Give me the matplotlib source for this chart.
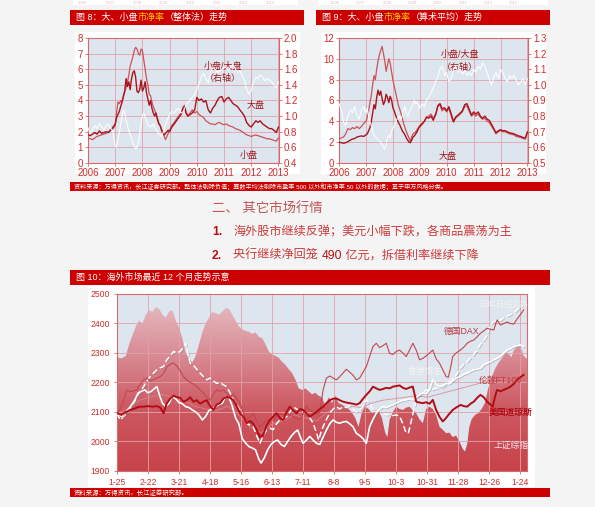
import matplotlib
matplotlib.use('Agg')
import matplotlib.pyplot as plt
import numpy as np
from matplotlib.colors import LinearSegmentedColormap
from matplotlib.patches import Rectangle, Polygon
from matplotlib.ticker import FormatStrFormatter
import matplotlib.patheffects as pe

plt.rcParams['font.family'] = ['Liberation Sans', 'Noto Sans CJK SC', 'DejaVu Sans']

# ---------------- DATA ----------------
# Fig 8: PB (whole method)
pb8_t = [2006.00, 2006.08, 2006.17, 2006.25, 2006.33, 2006.42, 2006.50, 2006.58, 2006.67, 2006.75, 2006.83, 2006.92,
         2007.00, 2007.05, 2007.10, 2007.15, 2007.20, 2007.25, 2007.30, 2007.35, 2007.40, 2007.45, 2007.50, 2007.55,
         2007.60, 2007.65, 2007.70, 2007.75, 2007.80, 2007.85, 2007.90, 2007.95, 2008.00, 2008.05, 2008.10, 2008.15,
         2008.20, 2008.25, 2008.30, 2008.35, 2008.40, 2008.45, 2008.50, 2008.55, 2008.60, 2008.65, 2008.70, 2008.75,
         2008.80, 2008.85, 2008.90, 2008.95, 2009.00, 2009.08, 2009.17, 2009.25, 2009.33, 2009.42, 2009.50, 2009.55,
         2009.60, 2009.67, 2009.75, 2009.83, 2009.92, 2010.00, 2010.08, 2010.17, 2010.25, 2010.33, 2010.42, 2010.50,
         2010.58, 2010.67, 2010.75, 2010.83, 2010.92, 2011.00, 2011.08, 2011.17, 2011.25, 2011.33, 2011.42, 2011.50,
         2011.58, 2011.67, 2011.75, 2011.83, 2011.92, 2012.00, 2012.08, 2012.17, 2012.25, 2012.33, 2012.42, 2012.50,
         2012.58, 2012.67, 2012.75, 2012.83, 2012.92, 2013.00]
pb8_big = [1.80, 1.75, 1.85, 1.95, 1.85, 2.05, 1.90, 1.95, 2.00, 1.95, 2.10, 2.30,
           2.50, 2.90, 3.10, 3.30, 3.60, 3.90, 4.30, 4.60, 5.40, 4.90, 5.20, 4.70,
           5.40, 5.80, 5.90, 5.50, 4.60, 4.50, 4.70, 5.30, 4.60, 4.80, 5.20, 4.50,
           4.10, 3.70, 4.00, 3.50, 3.20, 3.00, 3.20, 2.80, 2.50, 2.40, 2.10, 1.90,
           1.80, 1.90, 2.00, 2.10, 2.00, 2.30, 2.50, 2.70, 2.90, 3.10, 3.50, 3.60,
           3.20, 3.00, 3.10, 3.20, 3.40, 4.20, 4.00, 4.10, 3.90, 4.00, 3.40, 3.20,
           3.50, 3.70, 4.00, 4.20, 4.25, 3.90, 4.10, 4.20, 4.00, 3.80, 3.70, 3.60,
           3.40, 3.20, 3.00, 2.60, 2.40, 2.30, 2.50, 2.70, 2.60, 2.70, 2.50, 2.40,
           2.30, 2.20, 2.20, 2.10, 1.95, 2.30]
pb8_small = [1.60, 1.55, 1.50, 1.60, 1.70, 1.75, 1.80, 1.85, 1.90, 2.00, 2.10, 2.20,
             2.40, 3.20, 3.90, 3.80, 4.00, 3.90, 4.20, 4.60, 4.80, 5.20, 5.60, 6.20,
             6.50, 6.80, 7.20, 7.40, 7.30, 7.00, 6.90, 7.30, 7.20, 6.60, 6.00, 5.40,
             5.00, 4.40, 4.30, 3.90, 3.60, 3.40, 3.10, 2.90, 2.60, 2.40, 2.20, 2.00,
             1.70, 1.50, 1.70, 1.90, 2.10, 2.40, 2.60, 2.80, 3.00, 3.20, 3.60, 3.70,
             3.30, 3.00, 3.20, 3.40, 3.20, 3.30, 3.10, 3.00, 2.90, 2.70, 2.60, 2.50,
             2.50, 2.45, 2.55, 2.60, 2.50, 2.45, 2.50, 2.40, 2.35, 2.30, 2.20, 2.15,
             2.10, 2.00, 1.90, 1.80, 1.75, 1.70, 1.75, 1.80, 1.75, 1.70, 1.65, 1.60,
             1.55, 1.55, 1.50, 1.45, 1.40, 1.60]
pb8_ratio = [0.85, 0.78, 0.82, 0.88, 0.84, 0.90, 0.86, 0.82, 0.88, 0.90, 0.85, 0.80,
             0.62, 0.60, 0.70, 0.78, 0.90, 1.00, 1.08, 1.05, 0.95, 0.88, 0.82, 0.76,
             0.72, 0.66, 0.62, 0.58, 0.60, 0.66, 0.78, 0.90, 1.00, 1.04, 0.98, 0.94,
             0.90, 0.88, 0.86, 0.88, 0.90, 0.86, 0.82, 0.80, 0.78, 0.76, 0.74, 0.78,
             0.84, 0.90, 0.94, 0.98, 1.02, 1.06, 1.04, 1.08, 1.10, 1.04, 1.06, 1.10,
             1.14, 1.18, 1.20, 1.24, 1.28, 1.34, 1.42, 1.50, 1.55, 1.48, 1.42, 1.55,
             1.62, 1.60, 1.56, 1.58, 1.60, 1.63, 1.62, 1.58, 1.64, 1.66, 1.60, 1.56,
             1.58, 1.52, 1.46, 1.34, 1.28, 1.32, 1.44, 1.50, 1.48, 1.53, 1.50, 1.45,
             1.48, 1.46, 1.44, 1.40, 1.36, 1.44]

# Fig 9: PB (arithmetic mean)
pb9_t = pb8_t
pb9_big = [2.00, 1.95, 1.90, 1.95, 2.05, 2.20, 2.30, 2.35, 2.50, 2.55, 2.60, 2.55,
           2.70, 2.80, 3.10, 3.40, 4.00, 4.80, 5.60, 5.20, 6.30, 7.00, 6.50, 6.90,
           6.20, 5.60, 5.90, 6.60, 6.30, 5.80, 6.40, 6.10, 5.30, 5.00, 4.60, 4.30,
           3.90, 3.70, 3.40, 3.10, 2.90, 2.70, 2.40, 2.20, 2.00, 1.95, 2.20, 2.50,
           2.60, 2.80, 3.00, 3.30, 3.50, 3.70, 4.00, 4.40, 4.30, 4.50, 4.10, 4.40,
           4.70, 5.50, 5.70, 5.20, 5.30, 5.00, 5.40, 4.70, 4.00, 4.40, 4.60, 4.80,
           5.00, 5.60, 5.70, 5.20, 4.60, 4.90, 4.70, 4.90, 4.50, 4.30, 4.50, 4.20,
           4.10, 3.70, 3.30, 2.90, 3.10, 3.20, 3.10, 3.10, 3.00, 2.90, 2.85, 2.80,
           2.70, 2.60, 2.55, 2.45, 2.40, 3.00]
pb9_small = [2.30, 2.40, 2.50, 2.80, 3.30, 3.20, 3.40, 3.30, 3.50, 3.30, 3.50, 3.80,
             4.00, 4.40, 5.00, 5.80, 6.50, 7.50, 8.40, 8.00, 9.00, 9.80, 10.40, 10.80,
             11.20, 10.50, 9.80, 8.80, 9.40, 10.00, 9.60, 8.80, 8.00, 7.40, 6.80, 6.20,
             5.60, 5.20, 4.80, 4.30, 3.80, 3.40, 3.00, 2.70, 2.40, 2.10, 2.50, 2.80,
             2.90, 3.00, 3.20, 3.40, 3.60, 3.80, 4.00, 4.40, 4.50, 4.70, 4.30, 4.50,
             4.80, 5.40, 5.60, 5.00, 5.20, 4.90, 5.30, 4.50, 3.90, 4.30, 4.50, 4.70,
             4.90, 5.40, 5.50, 5.00, 4.50, 4.70, 4.50, 4.70, 4.40, 4.20, 4.30, 4.00,
             3.90, 3.50, 3.20, 2.80, 3.00, 3.10, 3.00, 3.00, 2.90, 2.80, 2.75, 2.70,
             2.55, 2.50, 2.45, 2.35, 2.30, 2.90]
pb9_ratio = [0.88, 0.84, 0.76, 0.74, 0.80, 0.84, 0.82, 0.86, 0.80, 0.78, 0.84, 0.86,
             0.82, 0.85, 0.80, 0.76, 0.74, 0.70, 0.68, 0.67, 0.66, 0.65, 0.64, 0.63,
             0.62, 0.60, 0.59, 0.62, 0.66, 0.68, 0.66, 0.70, 0.72, 0.74, 0.76, 0.78,
             0.79, 0.80, 0.78, 0.80, 0.84, 0.86, 0.82, 0.80, 0.82, 0.84, 0.86, 0.88,
             0.90, 0.88, 0.89, 0.87, 0.85, 0.88, 0.86, 0.90, 0.92, 0.95, 0.98, 1.00,
             1.03, 1.05, 1.10, 1.12, 1.06, 1.08, 1.02, 1.04, 1.10, 1.12, 1.08, 1.10,
             1.07, 1.09, 1.06, 1.08, 1.06, 1.10, 1.08, 1.12, 1.10, 1.14, 1.12, 1.08,
             1.04, 1.00, 1.05, 1.08, 1.04, 1.10, 1.08, 1.04, 1.02, 1.06, 1.04, 1.06,
             1.03, 1.00, 1.02, 1.04, 1.00, 1.04]

# Fig 10: overseas markets (days since 1-25)
mk_ticks = [0, 28, 56, 84, 112, 140, 168, 196, 224, 252, 280, 308, 336, 364]
mk_ticklabels = ['1-25', '2-22', '3-21', '4-18', '5-16', '6-13', '7-11', '8-8', '9-5',
                 '10-3', '10-31', '11-28', '12-26', '1-24']

sh_t = [0, 4, 8, 11, 14, 17, 20, 23, 26, 29, 32, 35, 38, 41, 44, 47, 50, 53, 56, 59, 62, 65, 68, 71,
        74, 77, 80, 83, 86, 89, 92, 95, 98, 101, 104, 107, 110, 113, 116, 119, 122, 125, 128, 131,
        134, 137, 140, 143, 146, 149, 152, 155, 158, 161, 164, 167, 170, 173, 176, 179, 182, 185,
        188, 191, 194, 197, 200, 203, 206, 209, 212, 215, 218, 221, 224, 227, 230, 233, 236, 239,
        242, 244, 246, 249, 252, 255, 258, 261, 264, 267, 270, 273, 276, 279, 282, 285, 288, 291,
        294, 297, 300, 303, 306, 309, 312, 314, 316, 318, 320, 323, 326, 329, 332, 335, 338, 341,
        344, 347, 350, 353, 356, 358, 361, 364, 367, 370]
sh = [2285, 2282, 2290, 2330, 2360, 2390, 2410, 2400, 2430, 2445, 2440, 2455, 2450, 2430, 2420, 2440,
      2445, 2410, 2385, 2350, 2300, 2280, 2268, 2290, 2330, 2370, 2400, 2420, 2440, 2435, 2430, 2440,
      2452, 2450, 2430, 2410, 2390, 2380, 2375, 2372, 2365, 2370, 2355, 2350, 2330, 2305, 2295, 2290,
      2284, 2270, 2260, 2245, 2232, 2210, 2180, 2175, 2180, 2170, 2160, 2165, 2155, 2150, 2120, 2150,
      2130, 2155, 2130, 2125, 2117, 2110, 2098, 2080, 2050, 2100, 2118, 2110, 2096, 2100, 2105, 2080,
      2030, 2015, 2073, 2100, 2118, 2110, 2107, 2115, 2118, 2105, 2096, 2075, 2062, 2110, 2118, 2110,
      2090, 2050, 2040, 2028, 2030, 2015, 2020, 2000, 1975, 1966, 1990, 2050, 2075, 2090, 2096, 2110,
      2130, 2180, 2215, 2245, 2265, 2280, 2295, 2300, 2285, 2310, 2320, 2322, 2290, 2280]

dj_t = [0, 4, 8, 12, 16, 20, 24, 28, 32, 36, 39, 42, 45, 48, 51, 54, 57, 60, 63, 66, 69, 72, 75, 78,
        81, 84, 87, 90, 93, 96, 99, 102, 105, 108, 111, 114, 117, 120, 123, 126, 129, 132, 135, 138,
        141, 144, 147, 150, 153, 156, 159, 162, 165, 168, 171, 174, 177, 180, 183, 186, 189, 192, 195,
        198, 201, 204, 207, 210, 213, 216, 219, 222, 225, 228, 231, 234, 237, 240, 243, 246, 249, 252,
        255, 258, 261, 264, 267, 270, 273, 276, 279, 282, 285, 288, 291, 294, 297, 299, 303, 306, 310,
        313, 316, 319, 322, 325, 328, 331, 334, 337, 339, 341, 343, 346, 349, 352, 355, 358, 361, 364, 367]
dj = [2096, 2090, 2100, 2107, 2112, 2118, 2118, 2120, 2118, 2120, 2115, 2096, 2130, 2145, 2155, 2150,
      2148, 2135, 2140, 2150, 2135, 2140, 2128, 2135, 2140, 2120, 2107, 2125, 2130, 2145, 2152, 2148,
      2140, 2120, 2096, 2085, 2062, 2070, 2060, 2040, 2015, 2022, 2055, 2073, 2085, 2096, 2080, 2073,
      2100, 2118, 2105, 2096, 2110, 2107, 2095, 2084, 2092, 2100, 2110, 2118, 2130, 2140, 2145, 2146,
      2140, 2135, 2132, 2130, 2128, 2125, 2130, 2145, 2158, 2170, 2186, 2180, 2175, 2178, 2182, 2180,
      2186, 2188, 2190, 2182, 2178, 2183, 2186, 2135, 2132, 2130, 2133, 2128, 2141, 2107, 2084, 2068,
      2080, 2090, 2107, 2115, 2124, 2120, 2118, 2128, 2135, 2148, 2158, 2150, 2135, 2125, 2118, 2150,
      2175, 2170, 2175, 2180, 2186, 2195, 2209, 2218, 2226]

dax_t = [0, 3, 6, 9, 12, 15, 18, 21, 24, 27, 30, 33, 36, 39, 42, 45, 48, 51, 54, 57, 60, 63, 66, 69,
         72, 75, 78, 81, 84, 87, 90, 93, 96, 99, 102, 105, 108, 111, 114, 117, 120, 123, 126, 129, 132,
         135, 138, 141, 144, 147, 150, 153, 156, 159, 162, 165, 168, 171, 174, 177, 180, 183, 186, 189,
         192, 195, 198, 201, 204, 207, 210, 213, 216, 219, 222, 225, 228, 231, 234, 237, 240, 243, 246,
         249, 252, 255, 258, 261, 264, 267, 270, 273, 276, 279, 282, 285, 288, 291, 294, 297, 299, 301,
         303, 306, 310, 313, 316, 319, 322, 325, 328, 331, 334, 337, 340, 343, 346, 349, 352, 355, 358,
         361, 364, 367]
dax = [2096, 2110, 2140, 2175, 2168, 2172, 2175, 2195, 2209, 2215, 2205, 2210, 2215, 2220, 2230, 2254,
       2262, 2266, 2256, 2240, 2220, 2209, 2200, 2195, 2186, 2175, 2164, 2150, 2140, 2160, 2175, 2170,
       2175, 2165, 2152, 2160, 2145, 2130, 2100, 2073, 2085, 2096, 2070, 2050, 2060, 2073, 2075, 2072,
       2085, 2096, 2090, 2098, 2090, 2085, 2078, 2073, 2095, 2118, 2105, 2100, 2095, 2100, 2175, 2215,
       2222, 2215, 2209, 2220, 2232, 2245, 2235, 2225, 2209, 2215, 2235, 2254, 2288, 2322, 2333, 2318,
       2325, 2333, 2299, 2295, 2305, 2310, 2300, 2288, 2310, 2333, 2310, 2277, 2282, 2290, 2300, 2310,
       2280, 2266, 2243, 2220, 2218, 2250, 2288, 2300, 2310, 2320, 2333, 2340, 2344, 2355, 2367, 2375,
       2384, 2380, 2378, 2412, 2395, 2400, 2405, 2400, 2398, 2415, 2430, 2446]

hsi_t = [0, 4, 8, 12, 16, 19, 22, 25, 28, 31, 34, 36, 39, 41, 44, 47, 50, 53, 56, 59, 62, 65, 68, 71,
         74, 77, 80, 83, 86, 89, 92, 95, 98, 101, 104, 107, 110, 113, 116, 119, 122, 125, 128, 130, 133,
         136, 139, 142, 145, 148, 151, 154, 157, 160, 163, 166, 168, 171, 174, 177, 180, 183, 186, 189,
         192, 195, 198, 201, 204, 207, 210, 213, 216, 219, 222, 225, 228, 231, 234, 237, 240, 243, 246,
         249, 252, 255, 258, 261, 264, 267, 270, 273, 276, 279, 282, 285, 288, 291, 294, 297, 300, 303,
         306, 310, 313, 316, 319, 322, 325, 328, 331, 334, 337, 340, 343, 346, 349, 352, 355, 358, 361,
         364, 367]
hsi = [2096, 2085, 2100, 2118, 2140, 2164, 2170, 2175, 2165, 2170, 2180, 2186, 2150, 2130, 2118, 2130,
       2152, 2145, 2132, 2128, 2118, 2115, 2107, 2100, 2090, 2073, 2085, 2105, 2110, 2118, 2125, 2130,
       2152, 2150, 2120, 2080, 2060, 2010, 1995, 1983, 1978, 1972, 1940, 1927, 1945, 1972, 1990, 2000,
       2005, 1990, 1983, 2000, 2017, 2030, 2039, 2010, 1994, 2005, 2017, 2005, 1994, 1990, 2015, 2039,
       2060, 2073, 2065, 2062, 2066, 2068, 2060, 2050, 2028, 2020, 2010, 1994, 2050, 2075, 2096, 2110,
       2118, 2115, 2120, 2125, 2130, 2135, 2140, 2141, 2145, 2141, 2150, 2158, 2165, 2162, 2175, 2209,
       2195, 2186, 2190, 2197, 2195, 2205, 2215, 2220, 2228, 2232, 2238, 2243, 2245, 2248, 2260, 2266,
       2270, 2277, 2282, 2288, 2300, 2310, 2315, 2322, 2325, 2327, 2322]

nk_t = [0, 3, 6, 9, 13, 16, 18, 21, 24, 27, 30, 33, 36, 39, 42, 45, 48, 51, 54, 57, 60, 62, 64, 66,
        69, 72, 75, 78, 81, 84, 87, 90, 93, 96, 99, 102, 105, 108, 111, 114, 117, 120, 123, 126, 129,
        132, 135, 138, 141, 144, 147, 150, 153, 156, 159, 162, 165, 168, 171, 174, 177, 180, 182, 184,
        186, 189, 192, 195, 198, 201, 204, 207, 210, 213, 216, 219, 222, 225, 228, 231, 234, 237, 240,
        243, 246, 249, 252, 255, 258, 261, 263, 265, 268, 271, 274, 277, 280, 283, 286, 289, 292, 295,
        298, 301, 304, 307, 310, 313, 316, 319, 322, 325, 328, 331, 334, 337, 340, 343, 346, 349, 352,
        355, 358, 361, 364, 367]
nk = [2096, 2073, 2085, 2096, 2118, 2135, 2152, 2170, 2186, 2205, 2220, 2232, 2243, 2250, 2254, 2277,
      2290, 2305, 2300, 2305, 2320, 2333, 2300, 2266, 2258, 2245, 2232, 2220, 2209, 2215, 2205, 2197,
      2200, 2192, 2186, 2165, 2141, 2125, 2107, 2085, 2062, 2055, 2050, 2020, 1994, 2020, 2039, 2045,
      2040, 2060, 2073, 2080, 2084, 2100, 2118, 2110, 2105, 2100, 2096, 2080, 2062, 2030, 2005, 2030,
      2050, 2075, 2096, 2110, 2118, 2110, 2118, 2115, 2120, 2110, 2100, 2105, 2120, 2141, 2130, 2110,
      2100, 2105, 2095, 2090, 2092, 2088, 2090, 2085, 2060, 2028, 2030, 2060, 2110, 2150, 2162, 2170,
      2175, 2172, 2178, 2180, 2183, 2186, 2195, 2205, 2215, 2230, 2250, 2262, 2270, 2285, 2295, 2310,
      2330, 2344, 2360, 2395, 2405, 2412, 2410, 2420, 2425, 2430, 2435, 2446, 2455, 2462]

ft_t = [0, 10, 20, 30, 40, 50, 60, 70, 80, 90, 100, 110, 120, 130, 140, 150, 160, 170, 180, 190, 200,
        210, 220, 230, 240, 250, 260, 270, 280, 290, 300, 310, 320, 330, 340, 350, 360, 367]
ft = [2096, 2110, 2140, 2150, 2160, 2150, 2140, 2120, 2110, 2105, 2120, 2090, 2050, 2030, 2060, 2070,
      2090, 2080, 2070, 2100, 2110, 2120, 2115, 2130, 2140, 2145, 2150, 2155, 2150, 2160, 2170, 2180,
      2190, 2200, 2210, 2215, 2225, 2230]

# ---------------- LAYOUT ----------------
W, H = 595, 507
fig = plt.figure(figsize=(W / 100, H / 100), dpi=100)
fig.patch.set_facecolor('#f4f4f4')


def frac(x0, y0, x1, y1):
    return [x0 / W, 1 - y1 / H, (x1 - x0) / W, (y1 - y0) / H]


bg = fig.add_axes([0, 0, 1, 1])
bg.set_xlim(0, W)
bg.set_ylim(H, 0)
bg.axis('off')

RED = '#cc0000'
TXT = '#d02c2c'


def box(x0, y0, x1, y1, color):
    bg.add_patch(Rectangle((x0, y0), x1 - x0, y1 - y0, facecolor=color, edgecolor='none'))


renderer = fig.canvas.get_renderer()


def multi(x, y, parts, size, weight='normal'):
    for s, c in parts:
        t = bg.text(x, y, s, color=c, fontsize=size, va='center', ha='left', fontweight=weight)
        x += t.get_window_extent(renderer).width


# remnants of the previous chart's axis at the very top
box(73, 0, 298, 5, 'white')
box(318, 0, 548, 5, 'white')
top_years = ['2006', '2007', '2008', '2009', '2010', '2011', '2012', '2013']
for xx, lab in zip([82, 110, 137, 163, 190, 217, 243, 270], top_years):
    bg.text(xx, 2.6, lab, color='#e4b8b8', fontsize=3, ha='center', va='center')
for xx, lab in zip([335, 360, 387, 412, 437, 463, 488, 513], top_years):
    bg.text(xx, 2.6, lab, color='#e4b8b8', fontsize=3, ha='center', va='center')

# title bars
box(70, 10, 304, 25, RED)
box(316, 10, 550, 25, RED)
multi(76, 17.5, [('图 8：大、小盘', 'white'), ('市净率', '#ffcc00'), ('（整体法）走势', 'white')], 6.5)
multi(322, 17.5, [('图 9：大、小盘', 'white'), ('市净率', '#ffcc00'), ('（算术平均）走势', 'white')], 6.5)

# chart panels
box(75, 32, 300, 174, 'white')
box(321, 32, 546, 174, 'white')

# source bar 1
box(70, 182, 550, 191, RED)
bg.text(74, 186.8, '资料来源：万得资讯，长江证券研究部。整体法剔除负值；算数平均法剔除市盈率 500 以外和市净率 50 以外的数据；基于申万风格分类。',
        color='white', fontsize=4.4, va='center', ha='left')

# section texts
bg.text(212, 208, '二、 其它市场行情', color='#c05555', fontsize=9.6, va='center', ha='left')
multi(212, 232, [('1.', '#b81010')], 8.7, weight='bold')
bg.text(233, 232, '海外股市继续反弹；美元小幅下跌，各商品震荡为主', color='#cc3a3a', fontsize=8.7, va='center', ha='left')
multi(212, 256, [('2.', '#b81010')], 8.7, weight='bold')
multi(233, 256, [('央行继续净回笼 ', '#cc3a3a'), ('490', '#b81010'), (' 亿元，拆借利率继续下降', '#cc3a3a')], 8.7)

# fig 10 bar + panel + source
box(70, 270, 550, 285, RED)
bg.text(76, 277.5, '图 10：海外市场最近 12 个月走势示意', color='white', fontsize=6.5, va='center', ha='left')
box(88, 286, 535, 487, 'white')
box(70, 488, 550, 497, RED)
bg.text(74, 492.5, '资料来源：万得资讯，长江证券研究部。', color='white', fontsize=4.6, va='center', ha='left')

PLOTBG = '#dde5ef'
GRID = '#e2a2a8'
SPINE = '#d46a6a'


def style(ax, size):
    ax.set_facecolor(PLOTBG)
    for s in ax.spines.values():
        s.set_color(SPINE)
        s.set_linewidth(0.8)
    ax.tick_params(colors=SPINE, labelcolor=TXT, labelsize=size, length=2, width=0.6, pad=1.5)
    ax.grid(True, color=GRID, linewidth=0.6)


def pb_chart(rect, t, big, small, ratio, ylim, yticks, rlim, rticks, labels):
    ax = fig.add_axes(frac(*rect))
    style(ax, 7)
    ax.plot(t, small, color='#cc5258', lw=0.9, zorder=3)
    ax.plot(t, big, color='#a8141c', lw=1.0, zorder=3)
    ax.set_xlim(2006, 2013.02)
    ax.set_ylim(*ylim)
    ax.set_yticks(yticks)
    ax.set_xticks(range(2006, 2014))
    ax2 = ax.twinx()
    ax2.plot(t, ratio, color='white', lw=0.8, alpha=0.9, zorder=2)
    ax2.set_ylim(*rlim)
    ax2.set_yticks(rticks)
    ax2.yaxis.set_major_formatter(FormatStrFormatter('%.1f'))
    ax2.tick_params(colors=SPINE, labelcolor=TXT, labelsize=7, length=2, width=0.6, pad=1.5)
    for s in ax2.spines.values():
        s.set_visible(False)
    for (x, y, s) in labels:
        ax.text(x, y, s, color='#a01818', fontsize=6.5, ha='center', va='center', zorder=5)
    return ax


pb_chart((88, 38, 279, 163), pb8_t, pb8_big, pb8_small, pb8_ratio, (0, 8), range(0, 9),
         (0.4, 2.0), np.arange(0.4, 2.01, 0.2),
         [(2010.95, 6.2, '小盘/大盘'), (2010.95, 5.4, '（右轴）'), (2012.15, 3.7, '大盘'), (2011.9, 0.5, '小盘')])
pb_chart((339, 38, 528, 163), pb9_t, pb9_big, pb9_small, pb9_ratio, (0, 12), range(0, 13, 2),
         (0.5, 1.3), np.arange(0.5, 1.31, 0.1),
         [(2010.5, 10.4, '小盘/大盘'), (2010.5, 9.2, '（右轴）'), (2010.05, 0.65, '大盘')])

# ---------------- Fig 10 ----------------
ax = fig.add_axes(frac(117, 294, 527, 471))
style(ax, 6.2)
cmap = LinearSegmentedColormap.from_list('g', [(0, '#c7434b'), (0.35, '#cd5861'), (0.65, '#d88a93'), (1, '#e8c2c8')])
grad = np.linspace(0, 1, 256).reshape(-1, 1)
im = ax.imshow(grad, extent=[0, 370, 1900, 2500], origin='lower', aspect='auto', cmap=cmap, zorder=0.5)
verts = [(sh_t[0], 1900)] + list(zip(sh_t, sh)) + [(sh_t[-1], 1900)]
poly = Polygon(verts, closed=True, facecolor='none', edgecolor='none', transform=ax.transData)
ax.add_patch(poly)
im.set_clip_path(poly)

shadow = [pe.SimpleLineShadow(offset=(0.6, -0.6), shadow_color='#7a6a70', alpha=0.35), pe.Normal()]
ax.plot(ft_t, ft, color='#d98890', lw=0.7, alpha=0.8, zorder=3)
ax.plot(nk_t, nk, color='white', lw=1.1, dashes=(4, 2), zorder=3, path_effects=shadow)
ax.plot(hsi_t, hsi, color='white', lw=1.2, zorder=3, path_effects=shadow)
ax.plot(dax_t, dax, color='#c2474d', lw=0.8, zorder=3)
ax.plot(dj_t, dj, color='#b30d14', lw=1.4, zorder=4)

ax.set_xlim(0, 370)
ax.set_ylim(1900, 2500)
ax.set_yticks(range(1900, 2501, 100))
ax.set_xticks(mk_ticks)
ax.set_xticklabels(mk_ticklabels)
ax.tick_params(axis='x', pad=3)
ax.tick_params(axis='y', pad=3)

lab_kw = dict(fontsize=6.3, ha='center', va='center', zorder=6)
ax.text(349, 2465, '日本日经225', color='#f2f2f2', **lab_kw)
ax.text(311, 2373, '德国DAX', color='#b83a40', **lab_kw)
ax.text(278, 2237, '香港恒生', color='#f4f4f4', **lab_kw)
ax.text(346, 2208, '伦敦FT100', color='#c0383e', **lab_kw)
ax.text(355, 2100, '美国道琼斯', color='#b00c12', fontweight='bold', **lab_kw)
ax.text(356, 1985, '上证综指', color='#f6e6e8', **lab_kw)

fig.savefig('out.png', dpi=100, facecolor=fig.get_facecolor())
